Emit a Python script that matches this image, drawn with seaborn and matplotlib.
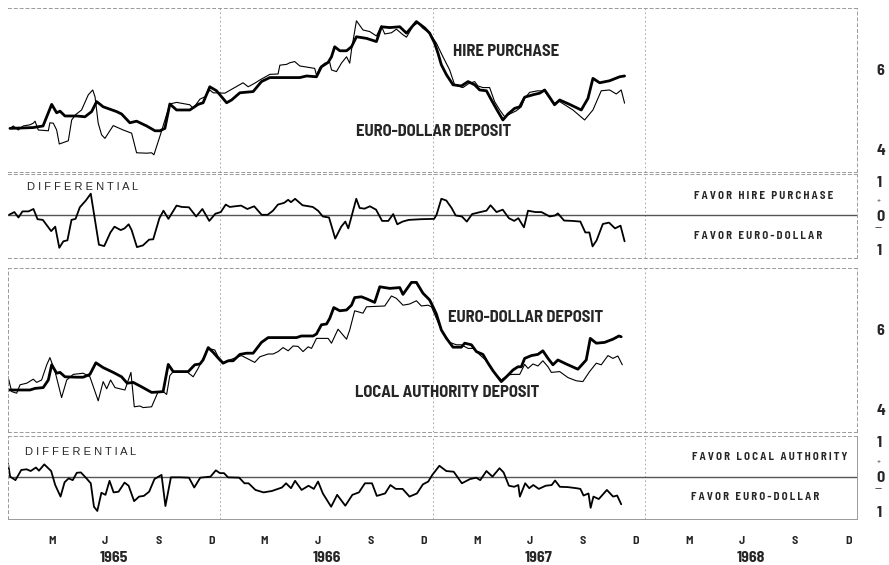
import numpy as np
import pandas as pd
import seaborn as sns
import matplotlib.pyplot as plt
from matplotlib.transforms import blended_transform_factory

# x values are months since 1 Jan 1965
# top chart: hire purchase (thin) vs euro-dollar deposit (thick)
hp_month = [0.11,0.30,0.58,0.86,1.24,1.43,1.53,1.71,2.28,2.37,2.56,2.75,2.90,3.41,3.60,3.84,4.16,4.54,4.79,4.92,
            5.10,5.29,5.48,5.95,6.51,6.99,7.27,7.84,8.12,8.25,8.63,9.15,9.53,10.28,10.47,10.85,11.13,11.41,11.60,12.26,
            13.29,13.58,13.95,14.24,14.80,15.27,15.37,15.75,15.93,16.21,16.50,17.34,17.44,17.63,17.91,18.19,18.29,18.57,18.85,19.14,
            19.32,19.42,19.70,20.07,20.45,20.83,21.11,21.30,21.68,21.96,22.33,22.53,22.90,23.18,23.46,23.84,24.22,24.59,24.97,25.25,
            25.72,26.01,26.38,26.57,26.85,27.23,27.51,27.80,28.08,28.46,28.74,29.02,29.21,29.49,29.96,30.34,30.81,31.19,31.94,32.60,
            33.07,33.54,34.01,34.39,34.67,34.86]
hp_rate = [4.54,4.60,4.50,4.60,4.63,4.67,4.72,4.50,4.48,4.68,4.67,4.50,4.15,4.23,4.75,4.89,5.00,5.38,5.50,5.33,
           4.67,4.38,4.29,4.61,4.50,4.42,3.93,3.92,3.93,3.88,4.40,5.15,5.19,5.13,5.04,5.27,5.33,5.50,5.43,5.42,
           5.68,5.58,5.67,5.75,5.89,5.90,6.12,6.14,6.18,6.21,6.10,6.04,5.87,6.06,6.17,6.19,6.00,5.96,6.17,6.33,
           6.17,6.50,7.23,7.00,6.96,6.85,7.10,6.90,6.93,7.02,6.88,6.82,7.10,7.18,7.04,6.92,6.67,6.33,6.00,5.63,
           5.56,5.65,5.71,5.60,5.56,5.56,5.21,5.00,4.83,4.92,4.98,5.08,5.29,5.44,5.48,5.47,5.17,5.21,5.00,4.75,
           5.00,5.48,5.50,5.40,5.50,5.17]
ed1_month = [0.11,1.41,1.98,2.47,2.75,2.94,3.22,3.88,4.35,4.73,5.01,5.38,6.14,6.42,6.89,7.27,7.84,8.31,8.59,8.87,
             9.15,9.53,10.28,10.75,11.03,11.41,11.79,12.36,12.64,13.11,13.86,14.33,14.80,15.55,16.50,16.88,17.44,17.72,18.10,18.29,
             18.47,18.76,19.14,19.42,19.70,20.27,20.83,21.11,21.58,22.15,22.53,23.09,23.56,23.84,24.12,24.31,24.50,24.79,25.16,25.63,
             26.01,26.38,26.67,27.05,27.33,27.70,27.98,28.27,28.64,28.93,29.21,29.68,30.06,30.34,30.62,30.90,31.19,31.75,32.41,32.79,
             33.07,33.45,34.01,34.58,34.86]
ed1_rate = [4.54,4.56,4.60,5.14,4.93,4.97,4.85,4.85,4.83,4.96,5.21,5.08,4.96,4.90,4.68,4.72,4.60,4.48,4.48,4.54,
            5.15,5.00,5.00,5.14,5.18,5.58,5.48,5.18,5.25,5.43,5.46,5.71,5.81,5.81,5.81,5.85,5.83,6.08,6.19,6.33,
            6.58,6.48,6.48,6.58,6.83,6.79,6.71,7.08,7.06,7.08,6.92,7.21,7.05,6.92,6.67,6.42,6.13,5.88,5.63,5.60,
            5.71,5.63,5.50,5.48,5.25,4.96,4.75,4.90,5.04,5.08,5.32,5.38,5.42,5.50,5.32,5.13,5.25,5.14,5.00,5.29,
            5.79,5.68,5.73,5.83,5.85]
d1_month = [0.06,0.36,0.59,0.82,1.16,1.44,1.67,1.97,2.44,2.67,2.90,3.13,3.36,3.59,3.82,4.06,4.40,4.68,5.14,5.44,
            5.79,6.02,6.37,6.59,6.82,6.99,7.29,7.63,7.98,8.21,8.56,8.79,9.07,9.53,9.83,10.23,10.64,10.99,11.38,11.72,
            12.03,12.31,12.54,12.84,13.18,13.53,13.92,14.34,14.68,14.98,15.26,15.61,15.84,16.00,16.23,16.65,17.23,17.53,17.80,18.15,
            18.50,18.84,19.07,19.24,19.69,19.88,20.16,20.46,20.81,21.15,21.50,21.78,22.01,22.31,22.66,23.35,24.09,24.23,24.50,24.78,
            25.08,25.31,25.66,25.94,26.24,26.70,27.05,27.28,27.62,27.97,28.32,28.62,28.85,29.17,29.40,29.82,30.16,30.63,30.93,31.09,
            31.44,31.90,32.36,32.64,32.87,33.05,33.28,33.63,33.98,34.32,34.63,34.86]
d1_val = [0.02,0.10,-0.06,0.12,0.12,0.19,-0.11,-0.13,-0.46,-0.33,-0.95,-0.76,-0.73,-0.13,-0.10,0.24,0.44,0.64,-0.86,-0.90,
          -0.50,-0.33,-0.43,-0.38,-0.26,-0.43,-0.93,-0.88,-0.71,-0.70,-0.08,0.14,-0.10,0.29,0.25,0.24,-0.03,0.19,-0.16,0.05,
          0.10,0.32,0.25,0.27,0.29,0.19,0.27,0.02,0.02,0.14,0.32,0.37,0.46,0.39,0.49,0.30,0.25,0.14,-0.03,-0.06,
          -0.68,-0.33,-0.18,-0.38,0.49,0.22,0.20,0.27,0.17,-0.16,-0.16,0.04,-0.26,-0.18,-0.13,-0.11,-0.10,0.02,0.49,0.44,
          0.22,0.00,-0.03,-0.18,0.04,0.10,0.14,0.30,0.10,0.17,-0.08,-0.16,-0.08,-0.35,0.14,0.10,0.10,-0.03,0.00,0.06,
          -0.15,-0.16,-0.18,-0.50,-0.50,-0.91,-0.73,-0.25,-0.21,-0.38,-0.30,-0.76]

# bottom chart: euro-dollar deposit (thick) vs local authority deposit (thin)
ed2_month = [0.0,1.24,1.53,1.99,2.28,2.47,2.75,2.94,3.22,3.88,4.25,4.63,4.97,5.38,5.95,6.42,6.74,7.08,7.55,8.12,
             8.49,8.77,9.06,9.34,10.19,10.56,10.85,11.03,11.32,11.60,11.94,
             12.16,12.45,12.73,13.11,13.49,13.86,14.33,14.71,15.37,16.31,16.59,17.25,17.44,17.72,18.01,18.19,18.42,18.76,19.14,
             19.42,19.60,19.98,20.27,20.73,21.02,21.58,22.15,22.33,22.81,23.09,23.46,23.84,
             24.03,24.22,24.50,24.79,25.16,25.63,25.82,26.20,26.48,26.85,27.14,27.42,27.89,28.18,28.55,28.83,29.02,29.21,29.59,29.96,
             30.24,30.53,30.81,31.09,31.56,32.22,32.69,32.92,33.26,33.73,34.20,34.54,34.67]
ed2_rate = [4.50,4.50,4.54,4.56,4.75,5.13,4.92,4.94,4.83,4.82,4.82,4.89,5.18,5.06,4.94,4.83,4.67,4.69,4.58,4.44,
            4.45,4.46,5.14,4.96,4.96,5.13,5.15,5.25,5.56,5.44,5.27,
            5.17,5.23,5.23,5.39,5.42,5.42,5.69,5.81,5.81,5.81,5.85,5.85,5.90,6.13,6.15,6.29,6.56,6.48,6.50,
            6.62,6.81,6.83,6.78,6.69,7.08,7.04,7.06,6.89,7.19,7.19,6.92,6.75,
            6.58,6.40,6.00,5.79,5.57,5.57,5.67,5.63,5.46,5.39,5.17,4.98,4.71,4.83,5.00,5.08,5.08,5.29,5.36,5.39,
            5.48,5.29,5.13,5.25,5.15,5.02,5.25,5.79,5.67,5.69,5.77,5.85,5.83]
la_month = [0.0,0.21,0.49,0.68,1.06,1.43,1.62,1.90,2.19,2.37,2.66,3.03,3.32,3.69,4.25,4.63,5.10,5.38,5.58,5.80,
            6.05,6.61,6.95,7.14,7.46,7.64,8.12,8.49,8.77,8.97,9.15,9.34,10.10,10.47,10.75,11.32,11.69,11.88,
            12.16,13.20,13.95,14.24,14.71,14.99,15.27,15.55,15.84,16.12,16.40,16.68,16.97,17.16,17.44,18.10,18.29,18.66,19.14,19.32,
            19.60,20.07,20.27,21.30,21.68,21.96,22.33,22.71,23.09,23.37,23.75,
            23.94,24.22,24.50,24.97,25.35,25.63,26.01,26.29,26.67,26.95,27.23,27.61,27.89,28.27,28.55,28.93,29.21,29.40,29.68,29.96,
            30.24,30.53,30.72,31.19,31.66,32.13,32.50,32.88,33.26,33.54,33.92,34.20,34.48,34.73]
la_rate = [4.83,4.46,4.42,4.63,4.67,4.77,4.69,4.75,5.13,5.31,4.96,4.31,4.75,4.89,4.92,4.83,4.23,4.71,4.53,4.75,
           4.56,4.50,4.94,4.08,4.10,4.06,4.08,4.46,4.46,4.39,4.86,4.96,4.96,4.83,5.04,5.54,5.50,5.33,
           5.19,5.36,5.19,5.33,5.40,5.40,5.46,5.56,5.48,5.60,5.59,5.46,5.58,5.54,5.79,5.79,5.67,6.02,5.77,6.00,
           6.48,6.42,6.58,6.60,6.85,6.79,6.62,6.65,6.73,6.60,6.62,
           6.58,6.29,6.00,5.69,5.63,5.63,5.54,5.54,5.38,5.27,5.13,4.88,4.75,4.88,4.89,4.89,5.14,5.04,5.15,5.10,
           5.23,5.08,4.94,4.96,4.81,4.73,4.71,4.96,5.17,5.13,5.36,5.29,5.35,5.13]
d2_month = [0.0,0.12,0.42,0.75,1.05,1.28,1.58,1.75,2.05,2.44,2.67,2.97,3.20,3.43,3.66,3.89,4.12,4.40,4.68,4.86,
            5.05,5.28,5.51,5.74,5.97,6.25,6.59,6.82,7.13,7.41,7.68,7.98,8.28,8.68,8.90,9.21,9.72,10.23,10.53,10.87,
            11.45,11.75,11.98,12.21,12.44,13.07,13.37,13.60,13.99,14.45,14.92,15.49,15.72,16.00,16.23,16.60,16.99,17.29,17.53,17.80,
            18.27,18.61,19.07,19.47,19.84,20.18,20.58,20.85,21.32,21.62,21.92,22.31,22.70,23.12,23.46,23.76,23.99,24.39,24.78,25.20,
            25.66,26.12,26.47,26.70,27.05,27.39,27.79,28.02,28.32,28.62,28.85,28.94,29.24,29.47,29.70,30.01,30.40,30.74,30.93,31.20,
            31.67,32.13,32.36,32.54,32.82,32.94,33.10,33.40,33.86,34.21,34.44,34.67]
d2_val = [0.38,0.00,-0.10,0.19,0.21,0.16,0.26,0.17,0.35,0.16,-0.24,-0.57,-0.16,-0.05,-0.10,0.11,0.12,-0.03,-0.19,-0.86,
          -0.98,-0.46,-0.52,-0.12,-0.45,-0.43,-0.17,-0.26,-0.70,-0.57,-0.55,-0.43,-0.07,0.05,-0.84,-0.02,-0.02,-0.03,-0.31,-0.03,
          0.00,0.18,0.10,0.10,-0.02,-0.03,-0.19,-0.19,-0.38,-0.45,-0.41,-0.31,-0.19,-0.33,-0.12,-0.38,-0.26,-0.35,-0.14,-0.48,
          -0.86,-0.52,-0.83,-0.52,-0.45,-0.19,-0.19,-0.55,-0.48,-0.24,-0.35,-0.35,-0.57,-0.48,-0.22,-0.14,0.05,0.31,0.16,0.14,
          -0.19,-0.07,-0.03,-0.10,0.16,0.00,0.24,0.12,-0.26,-0.29,-0.24,-0.57,-0.19,-0.33,-0.24,-0.35,-0.26,-0.24,-0.11,-0.29,
          -0.30,-0.33,-0.35,-0.54,-0.48,-0.89,-0.57,-0.64,-0.38,-0.57,-0.54,-0.79]

month_labels = ['M', 'J', 'S', 'D']
years = ['1965', '1966', '1967', '1968']

sns.set_theme(style='white')
cond = ['Barlow Semi Condensed', 'Barlow Condensed', 'DejaVu Sans']
plain = ['Liberation Sans', 'DejaVu Sans']
plt.rcParams['font.family'] = cond

fig = plt.figure(figsize=(8.89, 5.65), dpi=100)
L, W = 8 / 889, 849 / 889
ax1 = fig.add_axes([L, 0.6956, W, 0.2903])
ax2 = fig.add_axes([L, 0.5434, W, 0.1487])
ax3 = fig.add_axes([L, 0.2354, W, 0.2903])
ax4 = fig.add_axes([L, 0.0814, W, 0.1469])

grid = '#9a9a9a'


def style(ax, ylim, ticks, labels, left=True):
    ax.set_xlim(0, 48)
    ax.set_ylim(*ylim)
    ax.set_xlabel('')
    ax.set_ylabel('')
    for s in ax.spines.values():
        s.set_linestyle((0, (3, 3)))
        s.set_color(grid)
        s.set_linewidth(0.7)
    ax.spines['left'].set_visible(left)
    for v in (12, 24, 36):
        ax.axvline(v, color=grid, lw=0.6, ls=(0, (2, 3)), zorder=0)
    ax.yaxis.tick_right()
    ax.set_yticks(ticks)
    ax.set_yticklabels(labels, fontweight='bold', fontsize=11.5)
    ax.tick_params(axis='y', length=0, pad=14)
    ax.set_xticks([])


def spaced(*words):
    return '   '.join(' '.join(w) for w in words)


big = dict(fontsize=12, fontweight='bold', va='center')
small = dict(fontsize=7.8, fontweight='bold', va='center')

# top levels
sns.lineplot(x=hp_month, y=hp_rate, ax=ax1, color='black', lw=0.8, estimator=None, sort=False)
sns.lineplot(x=ed1_month, y=ed1_rate, ax=ax1, color='black', lw=2.0, estimator=None, sort=False)
style(ax1, (3.45, 7.55), [4, 6], ['4', '6'], left=False)
ax1.text(25.15, 6.45, 'HIRE PURCHASE', **big)
ax1.text(19.7, 4.45, 'EURO-DOLLAR DEPOSIT', **big)

# top differential
ax2.axhline(0, color='#555555', lw=1.0)
sns.lineplot(x=d1_month, y=d1_val, ax=ax2, color='black', lw=1.3, estimator=None, sort=False)
style(ax2, (-1.25, 1.22), [-1, 0, 1], ['1', '0', '1'], left=False)
ax2.text(1.1, 0.84, spaced('DIFFERENTIAL'), fontsize=8, va='center', family=plain)
ax2.text(38.78, 0.57, spaced('FAVOR', 'HIRE', 'PURCHASE'), **small)
ax2.text(38.78, -0.60, spaced('FAVOR', 'EURO-DOLLAR'), **small)

# bottom levels
sns.lineplot(x=la_month, y=la_rate, ax=ax3, color='black', lw=0.8, estimator=None, sort=False)
sns.lineplot(x=ed2_month, y=ed2_rate, ax=ax3, color='black', lw=2.0, estimator=None, sort=False)
style(ax3, (3.45, 7.55), [4, 6], ['4', '6'])
ax3.text(24.9, 6.3, 'EURO-DOLLAR DEPOSIT', **big)
ax3.text(19.6, 4.43, 'LOCAL AUTHORITY DEPOSIT', **big)

# bottom differential
ax4.axhline(0, color='#555555', lw=1.0)
sns.lineplot(x=d2_month, y=d2_val, ax=ax4, color='black', lw=1.3, estimator=None, sort=False)
style(ax4, (-1.21, 1.16), [-1, 0, 1], ['1', '0', '1'])
ax4.spines['bottom'].set_linestyle('-')
ax4.spines['right'].set_linestyle('-')
ax4.text(0.95, 0.7, spaced('DIFFERENTIAL'), fontsize=8, va='center', family=plain)
ax4.text(38.65, 0.56, spaced('FAVOR', 'LOCAL', 'AUTHORITY'), **small)
ax4.text(38.6, -0.59, spaced('FAVOR', 'EURO-DOLLAR'), **small)

for ax in (ax2, ax4):
    tr = blended_transform_factory(ax.transAxes, ax.transData)
    ax.text(1.025, 0.42, '+', transform=tr, fontsize=6, ha='center', va='center')
    ax.text(1.025, -0.36, '\u2014', transform=tr, fontsize=8, ha='center', va='center')

# month / year axis
ax4.set_xticks([q + 12 * i for i in range(4) for q in (2.5, 5.5, 8.5, 11.5)])
ax4.set_xticklabels(month_labels * 4, fontweight='bold', fontsize=8.5)
ax4.tick_params(axis='x', length=0, pad=12)
tr = blended_transform_factory(ax4.transData, ax4.transAxes)
for i, yr in enumerate(years):
    ax4.text(6 + 12 * i, -0.47, yr, transform=tr, ha='center', va='center',
             fontsize=11.5, fontweight='bold')

fig.savefig('out.png', dpi=100)
